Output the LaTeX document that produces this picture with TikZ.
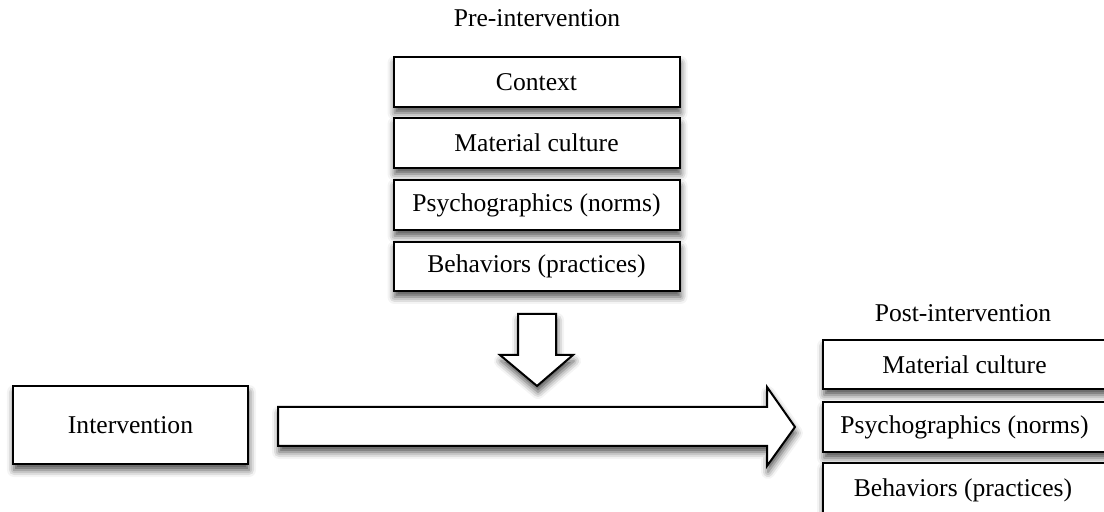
\documentclass[tikz,border=0pt]{standalone}
\usepackage{fontspec}
\setmainfont{Liberation Serif}
\usetikzlibrary{shadows.blur}
\begin{document}
\begin{tikzpicture}[x=0.5pt,y=-0.5pt,
  shade/.style={blur shadow={shadow xshift=0.5pt,shadow yshift=-3pt,shadow blur radius=3.5pt,shadow opacity=70}},
  box/.style={draw=black,line width=1pt,fill=white,shade,inner sep=0pt,
    font=\fontsize{12.8}{15}\selectfont},
  lbl/.style={font=\fontsize{12.8}{15}\selectfont,inner sep=0pt},
  blockarrow/.style={draw=black,line width=1pt,fill=white,line join=miter,shade}]
\useasboundingbox (0,0) rectangle (1104,512);

% pre-intervention stack
\node[lbl] (pre) at (537,18) {Pre-intervention};
\node[box,minimum width=143pt,minimum height=25pt] (ctx) at (536.5,82) {Context};
\node[box,minimum width=143pt,minimum height=25pt] (mat1) at (536.5,143) {Material culture};
\node[box,minimum width=143pt,minimum height=25pt] (psy1) at (536.5,205) {Psychographics (norms)};
\node[box,minimum width=143pt,minimum height=24.5pt] (beh1) at (536.5,266.5) {Behaviors (practices)};

% intervention
\node[box,minimum width=117.5pt,minimum height=39pt] (interv) at (130.5,425) {Intervention};

% post-intervention stack
\node[lbl] (post) at (963,313) {Post-intervention};
\node[box,minimum width=141.5pt,minimum height=24.5pt] (mat2) at (964.5,364.5) {Material culture};
\node[box,minimum width=141.5pt,minimum height=25pt] (psy2) at (964.5,427) {Psychographics (norms)};
\node[box,minimum width=141.5pt,minimum height=27pt,text depth=0pt] (beh2) at (964.5,490) {};
\node[lbl] (beh2t) at (963,490) {Behaviors (practices)};

% down block arrow
\draw[blockarrow] (518,314) -- (556,314) -- (556,355) -- (573,355) -- (537,386)
  -- (500,355) -- (518,355) -- cycle;

% right block arrow
\draw[blockarrow] (278,407) -- (767,407) -- (767,387) -- (795,427) -- (767,466)
  -- (767,446) -- (278,446) -- cycle;
\end{tikzpicture}
\end{document}
